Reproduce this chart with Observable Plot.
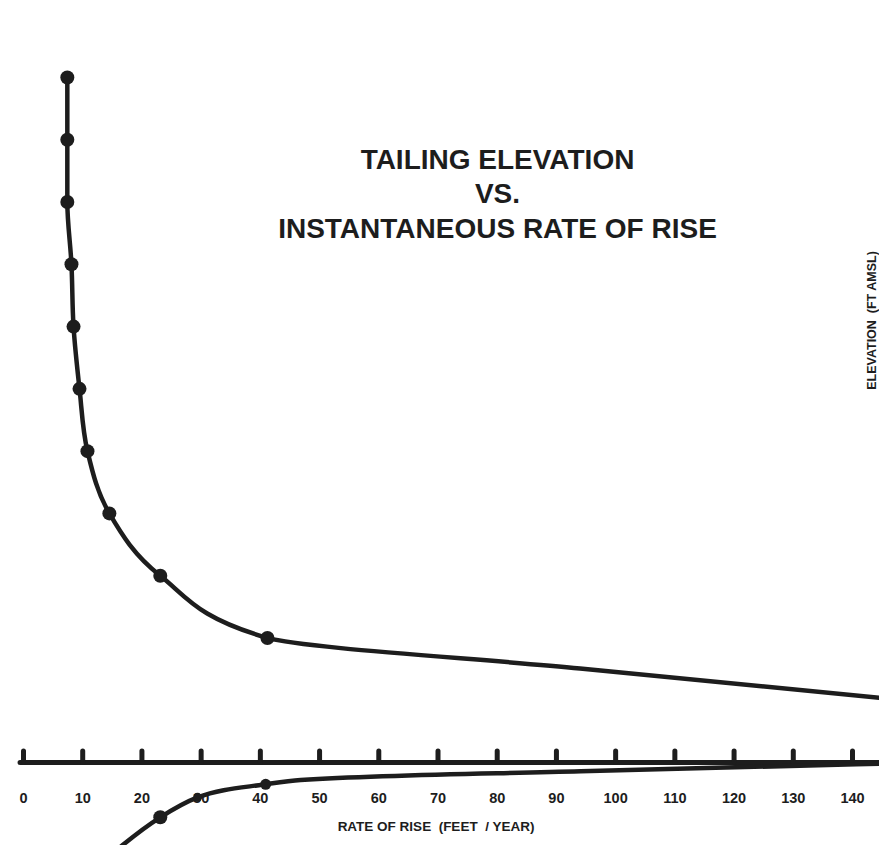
<!DOCTYPE html>
<html>
<head>
<meta charset="utf-8">
<script src="https://cdn.jsdelivr.net/npm/d3@7"></script>
<script src="https://cdn.jsdelivr.net/npm/@observablehq/plot@0.6"></script>
<style>
  html, body { margin: 0; padding: 0; background: #fff; overflow: hidden; }
  #chart svg { display: block; overflow: visible; }
</style>
</head>
<body>
<div id="chart"></div>
<script>
// Upper curve: tailing elevation vs. instantaneous rate of rise (dots at measured points)
const upperRate = [7.4, 7.4, 7.4, 8.1, 8.45, 9.46, 10.8, 14.5, 23.1, 41.2];
const upperElev = [6460, 6450, 6440, 6430, 6420, 6410, 6400, 6390, 6380, 6370];
// Upper curve continuation beyond the last dot
const upperTailRate = [94.0, 144.6];
const upperTailElev = [6365.1, 6360.4];

// Lower curve (below the rate axis)
const lowerRate = [14.6, 16.7, 23.1, 29.4, 40.9, 46.8, 94.1, 144.6];
const lowerElev = [6335.0, 6336.7, 6341.2, 6344.4, 6346.5, 6347.2, 6348.6, 6349.8];
const lowerDotRate = [23.1, 29.4, 40.9];
const lowerDotElev = [6341.2, 6344.4, 6346.5];
const lowerDotSize = [7, 4.5, 5.5];

// Rate axis
const xTicks = [0, 10, 20, 30, 40, 50, 60, 70, 80, 90, 100, 110, 120, 130, 140];
const axisElev = 6350;

const titleText = "TAILING ELEVATION\nVS.\nINSTANTANEOUS RATE OF RISE";
const xLabel = "RATE OF RISE  (FEET  / YEAR)";
const yLabel = "ELEVATION  (FT AMSL)";

const ink = "#1d1d1d";
const font = "'Liberation Sans', Arial, Helvetica, sans-serif";

const upper = upperRate.map((r, i) => ({rate: r, elev: upperElev[i]}));
const upperLine = upper.concat(upperTailRate.map((r, i) => ({rate: r, elev: upperTailElev[i]})));
const lower = lowerRate.map((r, i) => ({rate: r, elev: lowerElev[i]}));
const lowerDots = lowerDotRate.map((r, i) => ({rate: r, elev: lowerDotElev[i], size: lowerDotSize[i]}));

const chart = Plot.plot({
  width: 879,
  height: 845,
  marginLeft: 23,
  marginRight: 27,
  marginTop: 77,
  marginBottom: 83,
  style: {fontFamily: font, background: "#fff", color: ink},
  x: {domain: [0, 140], axis: null},
  y: {domain: [6350, 6460], axis: null},
  r: {type: "identity"},
  marks: [
    // axis line and ticks
    Plot.ruleY([axisElev], {x1: -0.5, x2: 146, stroke: ink, strokeWidth: 5, strokeLinecap: "round"}),
    Plot.ruleX(xTicks, {x: d => d, y1: axisElev, y2: axisElev + 1.75, stroke: ink, strokeWidth: 5, strokeLinecap: "round"}),
    Plot.text(xTicks, {x: d => d, y: axisElev, dy: 36, text: d => String(d), fontSize: 14.5, fontWeight: "bold", fill: ink}),
    // curves
    Plot.line(upperLine, {x: "rate", y: "elev", curve: "monotone-y", stroke: ink, strokeWidth: 4.5}),
    Plot.dot(upper, {x: "rate", y: "elev", r: 7, fill: ink}),
    Plot.line(lower, {x: "rate", y: "elev", curve: "monotone-x", stroke: ink, strokeWidth: 4.5}),
    Plot.dot(lowerDots, {x: "rate", y: "elev", r: "size", fill: ink}),
    // texts
    Plot.text([titleText], {frameAnchor: "top", dx: 59.5, dy: 115, lineAnchor: "middle", lineHeight: 1.22, fontSize: 28, fontWeight: "bold", fill: ink}),
    Plot.text([xLabel], {frameAnchor: "bottom", dx: -2, dy: 68, fontSize: 13.5, fontWeight: "bold", fill: ink}),
    Plot.text([yLabel], {frameAnchor: "right", textAnchor: "middle", dx: 19, dy: -99.5, rotate: -90, fontSize: 12.5, fontWeight: "bold", fill: ink})
  ]
});
chart.setAttribute("style", (chart.getAttribute("style") || "") + ";overflow:visible;");
document.getElementById("chart").appendChild(chart);
</script>
</body>
</html>
